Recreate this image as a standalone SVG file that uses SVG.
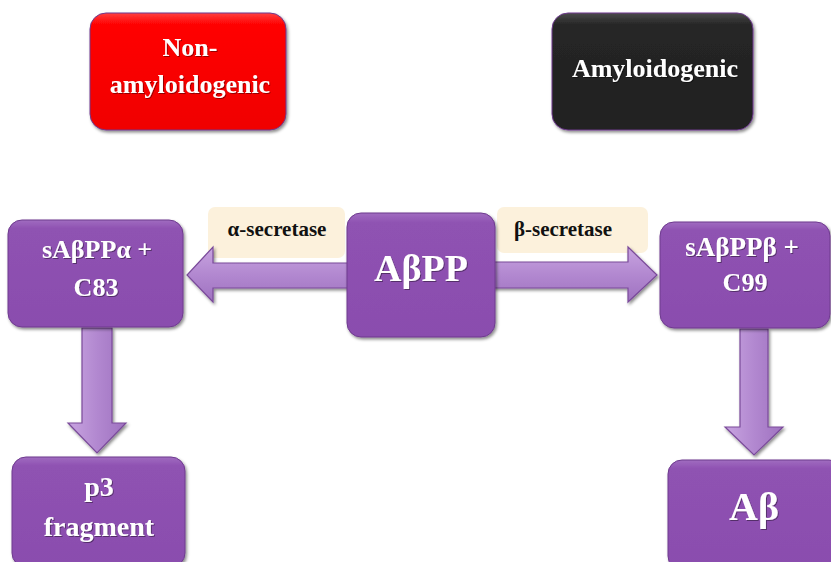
<svg xmlns="http://www.w3.org/2000/svg" width="831" height="562" viewBox="0 0 831 562">
<defs>
<linearGradient id="gPurple" x1="0" y1="0" x2="0" y2="1">
<stop offset="0" stop-color="#A06CC0"/>
<stop offset="0.08" stop-color="#8F52B2"/>
<stop offset="1" stop-color="#8A4DAE"/>
</linearGradient>
<linearGradient id="gRed" x1="0" y1="0" x2="0" y2="1">
<stop offset="0" stop-color="#FF4040"/>
<stop offset="0.1" stop-color="#FF0000"/>
<stop offset="1" stop-color="#F00000"/>
</linearGradient>
<linearGradient id="gBlack" x1="0" y1="0" x2="0" y2="1">
<stop offset="0" stop-color="#4A4A4A"/>
<stop offset="0.1" stop-color="#262626"/>
<stop offset="1" stop-color="#202020"/>
</linearGradient>
<linearGradient id="gArrowH" x1="0" y1="0" x2="0" y2="1">
<stop offset="0" stop-color="#C8A4E0"/>
<stop offset="0.5" stop-color="#B288D0"/>
<stop offset="1" stop-color="#9F72C0"/>
</linearGradient>
<linearGradient id="gArrowV" x1="0" y1="0" x2="1" y2="0">
<stop offset="0" stop-color="#C8A4E0"/>
<stop offset="0.5" stop-color="#B288D0"/>
<stop offset="1" stop-color="#9F72C0"/>
</linearGradient>
<filter id="shadow" x="-10%" y="-10%" width="125%" height="130%">
<feDropShadow dx="1.5" dy="2" stdDeviation="1.5" flood-color="#000" flood-opacity="0.45"/>
</filter>
<filter id="tshadow" x="-10%" y="-20%" width="125%" height="150%">
<feDropShadow dx="1" dy="1" stdDeviation="0.6" flood-color="#000" flood-opacity="0.4"/>
</filter>
</defs>
<style>
.box{stroke:#6E3A8E;stroke-width:1;filter:url(#shadow);}
.purple{fill:url(#gPurple);}
.lbl{fill:#FCEFD8;opacity:0.9;}
.t{font-family:"Liberation Serif","Times New Roman",serif;font-weight:bold;fill:#FFFFFF;text-anchor:middle;filter:url(#tshadow);}
.dk{font-family:"Liberation Serif","Times New Roman",serif;font-weight:bold;fill:#111111;text-anchor:middle;font-size:21px;}
.arrow{stroke:#7A4A9A;stroke-width:1.2;filter:url(#shadow);}
</style>
<g id="non-amyloidogenic">
<rect class="box" x="90" y="13" width="196" height="117" rx="16" fill="url(#gRed)" stroke="#B00000"/>
<text class="t" x="190" y="56" font-size="26">Non-</text>
<text class="t" x="190" y="93" font-size="26">amyloidogenic</text>
</g>
<g id="amyloidogenic">
<rect class="box" x="552" y="13" width="201" height="117" rx="16" fill="url(#gBlack)" stroke="#000"/>
<text class="t" x="655" y="77" font-size="26">Amyloidogenic</text>
</g>
<g id="labels">
<rect class="lbl" x="208" y="207" width="137" height="51" rx="7"/>
<text class="dk" x="277" y="236">α-secretase</text>
<rect class="lbl" x="497" y="207" width="151" height="46" rx="7"/>
<text class="dk" x="563" y="236">β-secretase</text>
</g>
<g id="connectors">
<polygon class="arrow" fill="url(#gArrowH)" points="350,263 213,263 213,247 187,275 213,302 213,288 350,288"/>
<polygon class="arrow" fill="url(#gArrowH)" points="493,262 628,262 628,247 657,275 628,302 628,288 493,288"/>
<polygon class="arrow" fill="url(#gArrowV)" points="82,328 112,328 112,423 126,423 97,453 68,423 82,423"/>
<polygon class="arrow" fill="url(#gArrowV)" points="740,329 768,329 768,427 783,427 754,455 725,427 740,427"/>
</g>
<g id="abpp">
<rect class="box purple" x="347" y="213" width="148" height="124" rx="14"/>
<text class="t" x="421" y="281" font-size="38">AβPP</text>
</g>
<g id="sabppa">
<rect class="box purple" x="8" y="220" width="175" height="107" rx="14"/>
<text class="t" x="97" y="258" font-size="26">sAβPPα +</text>
<text class="t" x="96" y="296" font-size="26">C83</text>
</g>
<g id="sabppb">
<rect class="box purple" x="660" y="222" width="170" height="106" rx="14"/>
<text class="t" x="742" y="256" font-size="27">sAβPPβ +</text>
<text class="t" x="745" y="291" font-size="26">C99</text>
</g>
<g id="p3">
<rect class="box purple" x="12" y="457" width="173" height="110" rx="14"/>
<text class="t" x="99" y="496" font-size="28">p3</text>
<text class="t" x="99" y="536" font-size="28">fragment</text>
</g>
<g id="abeta">
<rect class="box purple" x="668" y="460" width="175" height="110" rx="14"/>
<text class="t" x="754" y="520" font-size="40">Aβ</text>
</g>
</svg>
